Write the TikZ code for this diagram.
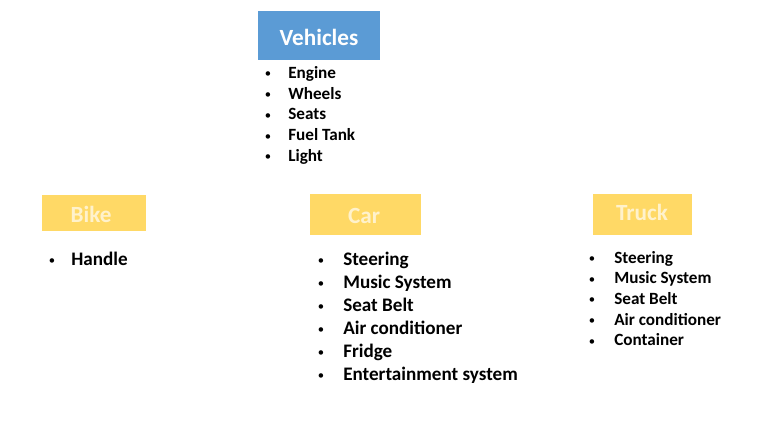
\documentclass[tikz,border=0pt]{standalone}
\usepackage{fontspec}
\setmainfont{Carlito}
\usetikzlibrary{positioning}

\definecolor{boxblue}{HTML}{5B9BD5}
\definecolor{boxyellow}{HTML}{FFD966}
\definecolor{paleyellow}{HTML}{FFF2CC}

\tikzset{
    headbox/.style={inner sep=0pt, text height=0.7em, text depth=0.2em,
        font=\bfseries\fontsize{16.5}{18}\selectfont},
    item/.style={anchor=west, inner sep=0pt, text height=0.7em, text depth=0.2em,
        font=\bfseries\fontsize{12.2}{14}\selectfont},
    bigitem/.style={item, font=\bfseries\fontsize{13.6}{16}\selectfont},
    dot/.style={inner sep=0pt, font=\fontsize{9}{10}\selectfont},
}

\begin{document}
\begin{tikzpicture}[x=0.025cm,y=-0.025cm]

% Canvas
\useasboundingbox (0,0) rectangle (760,429);

% Heads
\fill[boxblue](258,11) rectangle (380,60);
\node[headbox,white] (vehicles) at (319,41.5) {Vehicles};

\fill[boxyellow](42,195) rectangle (146,231);
\node[headbox,paleyellow] (bike) at (91,219) {Bike};

\fill[boxyellow](310,194) rectangle (421,235);
\node[headbox,paleyellow] (car) at (364,220) {Car};

\fill[boxyellow](593,194) rectangle (692,235);
\node[headbox,paleyellow] (truck) at (642,217) {Truck};

% Vehicles list
\foreach \txt [count=\i] in {Engine,Wheels,Seats,Fuel Tank,Light}
{
    \node[item] (v\i) at (288,{75+20.7*(\i-1)}) {\txt};
    \node[dot] (vb\i) at (268,{75+20.7*(\i-1)}) {\textbullet};
}

% Bike list
\node[bigitem] (b1) at (71,262) {Handle};
\node[dot] (bb1) at (52,262) {\textbullet};

% Car list
\foreach \txt [count=\i] in {Steering,Music System,Seat Belt,Air conditioner,Fridge,Entertainment system}
{
    \node[bigitem] (c\i) at (343,{262+23*(\i-1)}) {\txt};
    \node[dot] (cb\i) at (321,{262+23*(\i-1)}) {\textbullet};
}

% Truck list
\foreach \txt [count=\i] in {Steering,Music System,Seat Belt,Air conditioner,Container}
{
    \node[item] (t\i) at (614,{259.5+20.7*(\i-1)}) {\txt};
    \node[dot] (tb\i) at (592,{259.5+20.7*(\i-1)}) {\textbullet};
}

\end{tikzpicture}
\end{document}
